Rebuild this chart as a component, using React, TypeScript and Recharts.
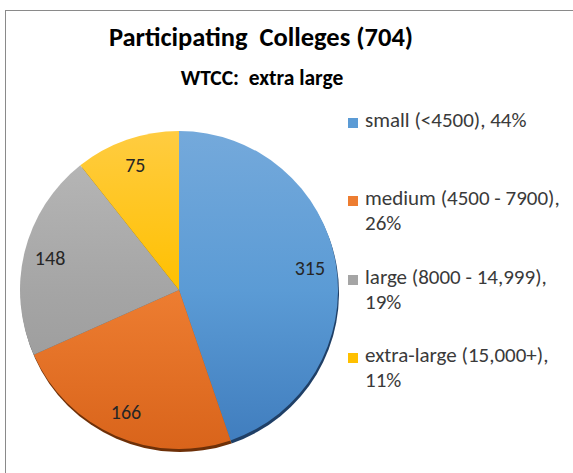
import { PieChart, Pie, Cell, Legend } from 'recharts'

const categories = ['small', 'medium', 'large', 'extra-large']
const counts = [315, 166, 148, 75]
const legendLines = [
  ['small (<4500), 44%'],
  ['medium (4500 - 7900),', '26%'],
  ['large (8000 - 14,999),', '19%'],
  ['extra-large (15,000+),', '11%'],
]
const baseColors = ['#5b9bd5', '#ed7d31', '#a5a5a5', '#ffc000']
const topColors = ['#74a9db', '#f08f55', '#b9b9b9', '#ffcc40']
const bottomColors = ['#3f7cbd', '#d9641b', '#959595', '#e6ad00']
const shadowColors = ['#1f3f66', '#6e3008', '#5a5a5a', '#806000']

const data = categories.map((name, i) => ({ name, value: counts[i] }))

const FONT = 'Carlito, Calibri, Lato, sans-serif'
const RAD = Math.PI / 180

const renderLabel = (p: any) => {
  const r = p.outerRadius * 0.835
  const x = p.cx + r * Math.cos(-p.midAngle * RAD)
  const y = p.cy + r * Math.sin(-p.midAngle * RAD)
  return (
    <text x={x} y={y} textAnchor="middle" dominantBaseline="central"
      fill="#262626" fontSize={20} fontFamily={FONT}>
      {p.value}
    </text>
  )
}

const renderLegend = () => (
  <div style={{ fontFamily: FONT, fontSize: 21, color: '#3a3a3a' }}>
    {legendLines.map((lines, i) => (
      <div key={i} style={{ height: 78.3, position: 'relative', paddingLeft: 17 }}>
        <span style={{
          position: 'absolute', left: 0, top: 10, width: 10, height: 10,
          background: baseColors[i],
        }} />
        {lines.map((l, j) => (
          <div key={j} style={{ lineHeight: '25px', whiteSpace: 'nowrap' }}>{l}</div>
        ))}
      </div>
    ))}
  </div>
)

export default function App() {
  return (
    <div style={{
      position: 'fixed', left: 0, top: 0, width: 573, height: 473,
      background: '#fff', overflow: 'hidden',
    }}>
      <div style={{
        position: 'absolute', left: 5, top: 10, width: 700, height: 600,
        border: '1px solid #8a8a8a',
      }} />
      <div style={{
        position: 'absolute', left: 0, top: 21, width: 522, textAlign: 'center',
        fontFamily: FONT, fontWeight: 700, fontSize: 26.5, lineHeight: '32px', color: '#000',
      }}>
        Participating&nbsp; Colleges (704)
      </div>
      <div style={{
        position: 'absolute', left: 0, top: 65, width: 524, textAlign: 'center',
        fontFamily: FONT, fontWeight: 700, fontSize: 21.5, lineHeight: '26px', color: '#000',
        whiteSpace: 'pre',
      }}>
        {'WTCC:  extra large'}
      </div>
      <div style={{ position: 'absolute', left: 0, top: 0 }}>
        <PieChart width={573} height={473} margin={{ top: 0, right: 0, bottom: 0, left: 0 }}>
          <defs>
            {baseColors.map((c, i) => (
              <linearGradient key={c} id={`g${i}`} gradientUnits="userSpaceOnUse"
                x1="0" y1="133" x2="0" y2="449">
                <stop offset="0%" stopColor={topColors[i]} />
                <stop offset="50%" stopColor={c} />
                <stop offset="100%" stopColor={bottomColors[i]} />
              </linearGradient>
            ))}
          </defs>
          <Pie
            data={data}
            dataKey="value"
            cx={180}
            cy={293}
            outerRadius={159}
            startAngle={90}
            endAngle={-270}
            stroke="none"
            isAnimationActive={false}
            legendType="none"
          >
            {data.map((_, i) => (
              <Cell key={i} fill={shadowColors[i]} />
            ))}
          </Pie>
          <Pie
            data={data}
            dataKey="value"
            cx={179}
            cy={290}
            outerRadius={159}
            startAngle={90}
            endAngle={-270}
            stroke="none"
            label={renderLabel}
            labelLine={false}
            isAnimationActive={false}
          >
            {data.map((_, i) => (
              <Cell key={i} fill={`url(#g${i})`} />
            ))}
          </Pie>
          <Legend
            layout="vertical"
            align="right"
            verticalAlign="top"
            content={renderLegend}
            wrapperStyle={{ left: 348, top: 108, width: 225 }}
          />
        </PieChart>
      </div>
    </div>
  )
}
